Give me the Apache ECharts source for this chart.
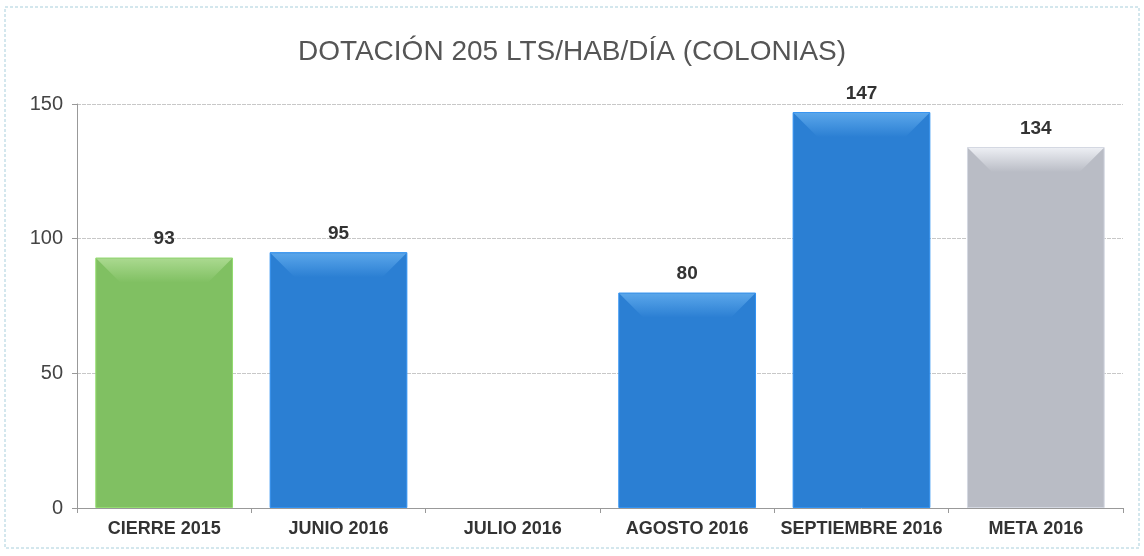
<!DOCTYPE html>
<html>
<head>
<meta charset="utf-8">
<script src="https://cdn.jsdelivr.net/npm/echarts@6/dist/echarts.min.js"></script>
<style>
  html, body { margin: 0; padding: 0; background: #fff; }
  #chart { width: 1144px; height: 556px; }
</style>
</head>
<body>
<div id="chart"></div>
<script>
var categories = ['CIERRE 2015', 'JUNIO 2016', 'JULIO 2016', 'AGOSTO 2016', 'SEPTIEMBRE 2016', 'META 2016'];
var values = [93, 95, null, 80, 147, 134];
var barColors = ['#80c062', '#2b7fd3', '#2b7fd3', '#2b7fd3', '#2b7fd3', '#b9bcc5'];
var bevelColors = ['#aad98f', '#5aa6ea', '#5aa6ea', '#5aa6ea', '#5aa6ea', '#eceef3'];
var yTicks = [0, 50, 100, 150];

var myChart = echarts.init(document.getElementById('chart'));

myChart.setOption({
  animation: false,
  title: {
    text: 'DOTACIÓN 205 LTS/HAB/DÍA (COLONIAS)',
    left: 'center',
    top: 33,
    textStyle: {
      fontFamily: 'Liberation Sans, Arial',
      fontWeight: 'normal',
      fontSize: 28,
      color: '#555'
    }
  },
  graphic: [{
    type: 'rect',
    shape: { x: 5, y: 7, width: 1134, height: 541 },
    style: { fill: 'none', stroke: '#a8cfdc', lineWidth: 1, lineDash: [3, 2] },
    silent: true
  }],
  grid: { left: 77, right: 21, top: 104, bottom: 48 },
  xAxis: {
    type: 'category',
    data: categories,
    axisLine: { lineStyle: { color: '#999' } },
    axisTick: { show: true, length: 5, lineStyle: { color: '#999' } },
    axisLabel: {
      interval: 0,
      fontFamily: 'Liberation Sans, Arial',
      fontWeight: 'bold',
      fontSize: 18,
      color: '#333',
      margin: 12
    }
  },
  yAxis: {
    type: 'value',
    min: yTicks[0],
    max: yTicks[yTicks.length - 1],
    interval: 50,
    axisLine: { show: true, lineStyle: { color: '#999' } },
    axisTick: { show: true, length: 5, lineStyle: { color: '#999' } },
    splitLine: { lineStyle: { color: '#c8c8c8', type: [4, 1] } },
    axisLabel: {
      fontFamily: 'Liberation Sans, Arial',
      fontSize: 20,
      color: '#444',
      margin: 14
    }
  },
  series: [
    {
      type: 'bar',
      barWidth: '79%',
      data: values.map(function (v, i) {
        return {
          value: v,
          itemStyle: { color: barColors[i], borderColor: echarts.color.lift(barColors[i], -0.15), borderWidth: 1 }
        };
      }),
      label: {
        show: true,
        position: 'top',
        distance: 9,
        fontFamily: 'Liberation Sans, Arial',
        fontWeight: 'bold',
        fontSize: 19,
        color: '#333'
      }
    },
    {
      // top bevel highlight of each bar
      type: 'custom',
      silent: true,
      z: 3,
      data: values.map(function (v, i) { return [i, v]; }),
      renderItem: function (params, api) {
        var v = api.value(1);
        if (v == null || isNaN(v)) return;
        var idx = api.value(0);
        var top = api.coord([idx, v]);
        var w = api.size([1, 0])[0] * 0.79;
        var x0 = top[0] - w / 2 + 1;
        var x1 = top[0] + w / 2 - 1;
        var y0 = top[1] + 1;
        var b = 24;
        return {
          type: 'polygon',
          shape: { points: [[x0, y0], [x1, y0], [x1 - b, y0 + b], [x0 + b, y0 + b]] },
          style: {
            fill: new echarts.graphic.LinearGradient(0, 0, 0, 1, [
              { offset: 0, color: bevelColors[idx] },
              { offset: 1, color: barColors[idx] }
            ])
          }
        };
      }
    }
  ]
});
</script>
</body>
</html>
